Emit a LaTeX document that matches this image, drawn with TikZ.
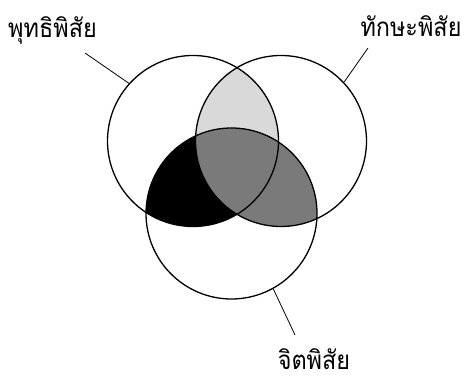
\documentclass[tikz,border=0pt]{standalone}
\usepackage{fontspec}
\newfontfamily\thaifont[Script=Thai,FakeStretch=0.9]{Loma}
\usetikzlibrary{backgrounds}
\tikzset{
  ring/.style={circle,draw,line width=1.3pt,minimum size=171pt,inner sep=0pt},
  tag/.style={font=\thaifont\fontsize{26}{28}\selectfont,anchor=base,inner sep=0pt,text depth=0pt},
  leader/.style={line width=0.8pt}
}
\begin{document}
\begin{tikzpicture}[x=1pt,y=-1pt]
\useasboundingbox (0,0) rectangle (466,379);
% the three domains
\node[ring] (buddhi) at (193,141) {};
\node[ring] (thaksa) at (281,141) {};
\node[ring] (chit) at (231.5,213.5) {};
% shaded overlaps
\begin{scope}[on background layer]
\begin{scope}
\clip (buddhi.center) circle (85.5pt);
\fill[black!15] (thaksa.center) circle (85.5pt);
\fill[black] (chit.center) circle (85.5pt);
\end{scope}
\begin{scope}
\clip (thaksa.center) circle (85.5pt);
\fill[black!52] (chit.center) circle (85.5pt);
\end{scope}
\end{scope}
% labels
\node[tag] (lbuddhi) at (52.5,38) {พุทธิพิสัย};
\node[tag] (lthaksa) at (411,36.5) {ทักษะพิสัย};
\node[tag] (lchit) at (314,370) {จิตพิสัย};
\coordinate (tbuddhi) at (85,53);
\coordinate (tthaksa) at (368,48);
\coordinate (tchit) at (295,335);
\draw[leader] (tbuddhi) -- (buddhi.138.7);
\draw[leader] (tthaksa) -- (thaksa.43.6);
\draw[leader] (tchit) -- (chit.-61.2);
\end{tikzpicture}
\end{document}
